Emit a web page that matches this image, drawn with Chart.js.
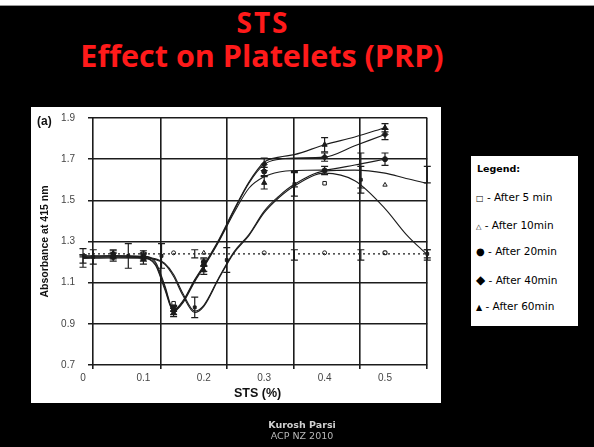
<!DOCTYPE html>
<html lang="en">
<head>
<meta charset="UTF-8" />
<title>STS - Effect on Platelets (PRP)</title>
<style>
  html, body { margin: 0; padding: 0; background: #000; }
  body { width: 594px; height: 447px; position: relative; overflow: hidden; font-family: "Comic Sans MS", "DejaVu Sans", sans-serif; }
  .topbar { position: absolute; left: 0; top: 0; width: 594px; height: 5px; background: #fff; border-bottom: 1px solid #999; }
  .title { position: absolute; left: 62px; width: 400px; text-align: center; color: #ff1a1a; font-weight: bold; white-space: nowrap;
           font-family: "Comic Sans MS", "Open Sans", "DejaVu Sans", sans-serif; }
  .t1 { top: 8px; font-size: 28px; line-height: 28px; letter-spacing: 2px; text-indent: 2px; }
  .t2 { top: 40px; font-size: 30.5px; line-height: 30.5px; }
  .panel { position: absolute; left: 31px; top: 107px; width: 410px; height: 296px; background: #fff; }
  .tag { position: absolute; left: 37px; top: 114px; font: bold 12px "Liberation Sans", Arial, sans-serif; color: #111; }
  canvas { position: absolute; left: 0; top: 0; }
  .legend { position: absolute; left: 471px; top: 156px; width: 107px; height: 170px; background: #fff; font-size: 10.5px; color: #000; }
  .legend div { position: absolute; left: 5px; white-space: nowrap; }
  .legend .head { font-weight: bold; font-size: 9.5px; left: 6px; }
  .foot { position: absolute; left: 202px; width: 200px; text-align: center; font-size: 9.5px; white-space: nowrap; }
</style>
</head>
<body>
  <div class="topbar"></div>
  <div class="title t1">STS</div>
  <div class="title t2">Effect on Platelets (PRP)</div>
  <div class="panel"></div>
  <canvas id="plt" width="594" height="447"></canvas>
  <div class="tag">(a)</div>

  <div class="legend">
    <div class="head" style="top:7px">Legend:</div>
    <div style="top:35px"><span style="font-size:8px">&#9633;</span> - After 5 min</div>
    <div style="top:63px"><span style="font-size:7px">&#9651;</span> - After 10min</div>
    <div style="top:89px"><span style="font-size:10px">&#9679;</span> - After 20min</div>
    <div style="top:117px"><span style="font-size:12px">&#9670;</span> - After 40min</div>
    <div style="top:144px"><span style="font-size:8px">&#9650;</span> - After 60min</div>
  </div>

  <div class="foot" style="top:419px;color:#d0d0d0;font-weight:bold">Kurosh Parsi</div>
  <div class="foot" style="top:430px;color:#b8b8b8">ACP NZ 2010</div>

  <script src="https://cdn.jsdelivr.net/npm/chart.js"></script>
  <script>
    // axes
    const xTicks = [0, 0.1, 0.2, 0.3, 0.4, 0.5];
    const gridX = [0.017, 0.128, 0.238, 0.349, 0.459, 0.57];
    const yTicks = [0.7, 0.9, 1.1, 1.3, 1.5, 1.7, 1.9];

    // fitted curves
    const curveX = [0, 0.05, 0.1, 0.12, 0.135, 0.15, 0.165, 0.185, 0.2, 0.225, 0.25, 0.275, 0.3, 0.325, 0.35, 0.4, 0.45, 0.5, 0.535, 0.57];
    const after5  = [1.225, 1.225, 1.222, 1.212, 1.19, 1.13, 1.04, 0.955, 0.985, 1.12, 1.245, 1.33, 1.44, 1.515, 1.57, 1.632, 1.595, 1.46, 1.335, 1.235];
    const after10 = [1.228, 1.228, 1.226, 1.216, 1.195, 1.14, 1.05, 0.962, 0.99, 1.125, 1.25, 1.335, 1.448, 1.522, 1.578, 1.642, 1.647, 1.632, 1.606, 1.583];
    const after20 = [1.218, 1.22, 1.218, 1.185, 1.07, 0.96, 1.0, 1.105, 1.175, 1.30, 1.44, 1.56, 1.615, 1.638, 1.645, 1.648, 1.672, 1.70, null, null];
    const after40 = [1.222, 1.225, 1.222, 1.19, 1.08, 0.962, 1.005, 1.11, 1.18, 1.305, 1.45, 1.585, 1.675, 1.70, 1.706, 1.71, 1.765, 1.82, null, null];
    const after60 = [1.23, 1.232, 1.228, 1.2, 1.09, 0.968, 1.01, 1.115, 1.185, 1.31, 1.455, 1.59, 1.685, 1.71, 1.722, 1.77, 1.808, 1.853, null, null];

    // control (dotted)
    const ctrlX = [0, 0.57];
    const ctrlY = [1.24, 1.24];
    const ctrlPtX = [0.1, 0.15, 0.3, 0.4, 0.5];
    const ctrlPtY = [1.245, 1.245, 1.245, 1.245, 1.245];
    const ctrlBarX = [0.185, 0.35, 0.46, 0.57];
    const ctrlBarY = [1.24, 1.235, 1.235, 1.235];
    const ctrlBarErr = [0.02, 0.025, 0.025, 0.025];

    // measured points
    const markX = [0, 0.05, 0.1, 0.15, 0.2, 0.3, 0.4, 0.5];
    const m60Y = [1.215, 1.235, 1.215, 0.955, 1.16, 1.585, 1.77, 1.853];
    const m60Err = [0.02, 0.02, 0.025, 0.02, 0.02, 0.03, 0.035, 0.02];
    const m40Y = [1.245, 1.24, 1.225, 0.965, 1.185, 1.675, 1.71, 1.82];
    const m40Err = [0.02, 0.02, 0.02, 0.02, 0.03, 0.03, 0.02, 0.025];
    const m20Y = [1.205, 1.225, 1.235, 0.975, 1.2, 1.64, 1.645, 1.70];
    const m20Err = [0.03, 0.02, 0.02, 0.015, 0.02, 0.02, 0.02, 0.03];
    const m5X = [0.15, 0.4, 0.5];
    const m5Y = [1.0, 1.583, 1.245];
    const m10X = [0.2, 0.5];
    const m10Y = [1.245, 1.575];
    const barsX = [0.017, 0.075, 0.13, 0.185, 0.238, 0.35, 0.46, 0.57];
    const barsY = [1.225, 1.23, 1.23, 0.98, 1.21, 1.58, 1.6, 1.24];
    const barsErr = [0.035, 0.06, 0.06, 0.05, 0.06, 0.06, 0.065, 0.02];
    const bars10X = [0.35, 0.46, 0.57];
    const bars10Y = [1.6, 1.645, 1.625];
    const bars10Err = [0.035, 0.085, 0.04];

    const xMin = 5 / 604, xMax = 0.57;
    const ink = '#1c1c1c';
    const axisFont = { family: 'Liberation Sans', size: 10 };

    const pair = (xs, ys) => xs.map((x, i) => ({ x, y: ys[i] }));

    function curve(ys) {
      return { data: pair(curveX, ys), showLine: true, borderColor: ink, borderWidth: 1.1, pointRadius: 0,
               cubicInterpolationMode: 'monotone', fill: false, clip: false, spanGaps: false };
    }
    function marks(xs, ys, style, r, filled, errs) {
      return { data: pair(xs, ys), showLine: false, pointStyle: style, pointRadius: r,
               pointBackgroundColor: filled ? ink : '#fff', pointBorderColor: ink, pointBorderWidth: 1,
               clip: false, errors: errs };
    }

    // vertical error bars with caps
    const errorBars = {
      id: 'errorBars',
      afterDatasetsDraw(chart) {
        const { ctx } = chart;
        const x = chart.scales.x, y = chart.scales.y;
        chart.data.datasets.forEach(ds => {
          if (!ds.errors) return;
          ctx.save();
          ctx.strokeStyle = ink;
          ctx.lineWidth = 1.2;
          ds.data.forEach((p, i) => {
            const e = ds.errors[i];
            const px = x.getPixelForValue(p.x);
            const top = y.getPixelForValue(p.y + e), bot = y.getPixelForValue(p.y - e);
            ctx.beginPath();
            ctx.moveTo(px, top); ctx.lineTo(px, bot);
            ctx.moveTo(px - 3.5, top); ctx.lineTo(px + 3.5, top);
            ctx.moveTo(px - 3.5, bot); ctx.lineTo(px + 3.5, bot);
            ctx.stroke();
          });
          ctx.restore();
        });
      }
    };

    new Chart(document.getElementById('plt'), {
      type: 'scatter',
      data: {
        datasets: [
          { data: pair(ctrlX, ctrlY), showLine: true, borderColor: ink, borderWidth: 1.4, borderDash: [2, 3],
            pointRadius: 0, clip: false },
          curve(after5), curve(after10), curve(after20), curve(after40), curve(after60),
          marks(ctrlPtX, ctrlPtY, 'circle', 2, false),
          marks(ctrlBarX, ctrlBarY, 'circle', 0, true, ctrlBarErr),
          marks(barsX, barsY, 'rect', 2, true, barsErr),
          marks(bars10X, bars10Y, 'rect', 0, true, bars10Err),
          marks(markX, m20Y, 'circle', 2.5, true, m20Err),
          marks(markX, m40Y, 'rectRot', 3, true, m40Err),
          marks(markX, m60Y, 'triangle', 3, true, m60Err),
          marks(m5X, m5Y, 'rect', 2.5, false),
          marks(m10X, m10Y, 'triangle', 2.5, false)
        ]
      },
      options: {
        responsive: false,
        animation: false,
        devicePixelRatio: 1,
        layout: { padding: { left: 0, top: 118, right: 594 - (83 + 0.57 * 604), bottom: 0 } },
        plugins: { legend: { display: false }, tooltip: { enabled: false } },
        scales: {
          xg: {
            type: 'linear', position: 'bottom', weight: 0, min: xMin, max: xMax,
            afterBuildTicks: s => { s.ticks = gridX.map(v => ({ value: v })); },
            afterFit: s => { s.height = 0; },
            ticks: { display: false },
            grid: { color: ink, lineWidth: 1.6, tickLength: 4, drawTicks: true },
            border: { display: false }
          },
          x: {
            type: 'linear', position: 'bottom', weight: 1, min: xMin, max: xMax,
            afterBuildTicks: s => { s.ticks = xTicks.map(v => ({ value: v })); },
            afterFit: s => { s.height = 82; },
            ticks: { autoSkip: false, maxRotation: 0, padding: 7, color: '#444', font: axisFont,
                     callback: v => v === 0 ? '0' : v.toFixed(1) },
            grid: { display: false, drawTicks: false },
            border: { display: false },
            title: { display: true, text: 'STS (%)', color: '#111',
                     font: { family: 'Liberation Sans', size: 12.5, weight: 'bold' }, padding: { top: 0, bottom: 46 } }
          },
          y: {
            type: 'linear', min: 0.7, max: 1.9,
            afterBuildTicks: s => { s.ticks = yTicks.map(v => ({ value: v })); },
            afterFit: s => { s.width = 88; },
            ticks: { padding: 13, color: '#444', font: axisFont, callback: v => v.toFixed(1) },
            grid: { color: ink, lineWidth: 1.6, drawTicks: false },
            border: { display: false },
            title: { display: true, text: 'Absorbance at 415 nm', color: '#111',
                     font: { family: 'Liberation Sans', size: 10.5, weight: 'bold' }, padding: { top: 38.7, bottom: 0 } }
          }
        }
      },
      plugins: [errorBars]
    });
  </script>
</body>
</html>
